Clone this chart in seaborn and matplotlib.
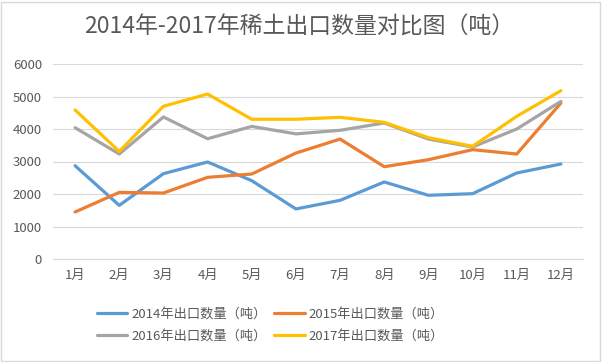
import numpy as np
import pandas as pd
import matplotlib
matplotlib.use("Agg")
import matplotlib.pyplot as plt
import seaborn as sns
from matplotlib.patches import Rectangle

months = ["1月", "2月", "3月", "4月", "5月", "6月", "7月", "8月", "9月", "10月", "11月", "12月"]
y2014 = [2870, 1650, 2625, 2985, 2410, 1540, 1805, 2370, 1960, 2010, 2646, 2923]
y2015 = [1446, 2050, 2030, 2513, 2615, 3260, 3690, 2840, 3056, 3364, 3230, 4800]
y2016 = [4040, 3230, 4370, 3700, 4080, 3850, 3960, 4185, 3690, 3446, 4000, 4850]
y2017 = [4585, 3310, 4700, 5075, 4300, 4300, 4360, 4205, 3733, 3467, 4390, 5180]
series_names = ["2014年出口数量（吨）", "2015年出口数量（吨）", "2016年出口数量（吨）", "2017年出口数量（吨）"]
colors = ["#5B9BD5", "#ED7D31", "#A5A5A5", "#FFC000"]

df = pd.DataFrame({"月份": months * 4,
                   "数量": y2014 + y2015 + y2016 + y2017,
                   "系列": np.repeat(series_names, len(months))})

sns.set_style("white")
plt.rcParams['font.family'] = ['Noto Sans CJK SC', 'DejaVu Sans']

fig = plt.figure(figsize=(6.02, 3.62), dpi=100)
ax = fig.add_axes([53 / 602, 1 - 259 / 362, 530 / 602, 195 / 362])

sns.lineplot(data=df, x="月份", y="数量", hue="系列", palette=colors,
             linewidth=2.3, sort=False, ax=ax, legend=False)

ax.set_xlim(-0.5, 11.5)
ax.set_ylim(0, 6000)
ax.set_yticks(range(0, 6001, 1000))
ax.yaxis.grid(True, color="#D9D9D9", linewidth=0.8)
ax.set_axisbelow(True)
for s in ["top", "right", "left"]:
    ax.spines[s].set_visible(False)
ax.spines["bottom"].set_color("#D9D9D9")
ax.spines["bottom"].set_linewidth(0.8)
ax.tick_params(axis="both", length=0, labelsize=9.5, colors="#595959")
ax.tick_params(axis="y", pad=8)
ax.tick_params(axis="x", pad=7)
ax.set_xlabel("")
ax.set_ylabel("")

fig.text(299 / 602, 1 - 27 / 362, "2014年-2017年稀土出口数量对比图（吨）",
         ha="center", va="center", fontsize=16.5, color="#595959")

# legend is filled column by column, so put 2014/2016 in the first column
order = [0, 2, 1, 3]
handles = [plt.Line2D([], [], color=colors[i], linewidth=2.3) for i in order]
labels = [series_names[i] for i in order]
fig.legend(handles, labels, ncol=2, loc="center left",
           bbox_to_anchor=(85 / 602, 1 - 325 / 362), frameon=False,
           fontsize=9.5, handlelength=2.3, handletextpad=0.3,
           columnspacing=0.6, labelspacing=0.65, labelcolor="#595959")

fig.patches.append(Rectangle((1 / 602, 1 / 362), 599 / 602, 359 / 362,
                             transform=fig.transFigure, fill=False,
                             edgecolor="#D9D9D9", linewidth=1))

fig.savefig("out.png", dpi=100)
